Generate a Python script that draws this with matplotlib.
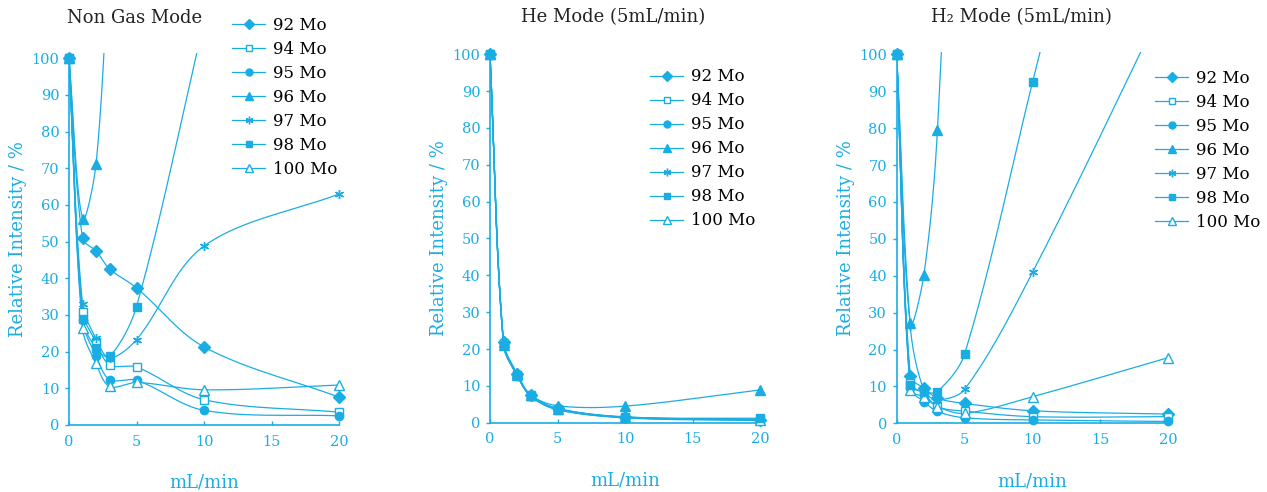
import numpy as np
import matplotlib.pyplot as plt
from matplotlib.lines import Line2D

nan = np.nan

# gas flow (mL/min)
flow = [0, 1, 2, 3, 5, 10, 20]
isotopes = ['92 Mo', '94 Mo', '95 Mo', '96 Mo', '97 Mo', '98 Mo', '100 Mo']
titles = ['Non Gas Mode', 'He Mode (5mL/min)', 'H\u2082 Mode (5mL/min)']

# relative intensity (%), one row per isotope, same order as above
nogas = [
    [100, 50.9, 47.5, 42.6, 37.4, 21.3, 7.6],
    [100, 30.9, 22.7, 16.4, 15.8, 6.9, 3.5],
    [100, 28.6, 18.9, 12.4, 12.2, 4.0, 2.5],
    [100, 56.3, 71.1, 130, nan, nan, nan],
    [100, 33.0, 23.6, 18.3, 23.3, 48.8, 63.0],
    [100, 29.0, 21.0, 18.7, 32.3, 110, nan],
    [100, 26.4, 16.8, 10.5, 11.6, 9.6, 10.9],
]
he = [
    [100, 22.0, 13.3, 7.5, 3.9, 1.5, 0.8],
    [100, 21.5, 13.0, 7.4, 3.7, 1.4, 0.7],
    [100, 21.3, 12.8, 7.3, 3.6, 1.3, 0.6],
    [100, 21.8, 13.4, 7.6, 4.6, 4.5, 8.9],
    [100, 21.6, 13.1, 7.5, 3.8, 1.5, 0.9],
    [100, 21.0, 12.9, 7.2, 3.5, 1.5, 1.2],
    [100, 21.2, 13.0, 7.4, 3.8, 1.6, 0.8],
]
h2 = [
    [100, 12.8, 9.5, 6.8, 5.4, 3.4, 2.5],
    [100, 10.8, 8.1, 4.5, 3.3, 1.8, 1.8],
    [100, 9.5, 5.9, 3.2, 1.5, 0.9, 0.5],
    [100, 27.1, 40.2, 79.5, 250, nan, nan],
    [100, 26.3, 9.0, 6.4, 9.2, 40.9, 116],
    [100, 10.4, 8.6, 8.6, 18.8, 92.4, 240],
    [100, 9.0, 7.2, 4.5, 2.7, 7.2, 17.8],
]
datasets = [nogas, he, h2]

cyan = '#1AADE4'
plt.rcParams['font.family'] = 'DejaVu Serif'

# marker, filled, size
styles = [('D', True, 6), ('s', False, 6), ('o', True, 6), ('^', True, 6.5),
          ((6, 2, 0), True, 6.5), ('s', True, 6), ('^', False, 6.5)]


def smooth(x, y, sx, sy, n=40):
    # chord-length Catmull-Rom in screen units, like spreadsheet smoothed lines
    x = np.asarray(x, float)
    y = np.asarray(y, float)
    ok = ~np.isnan(y)
    p = np.column_stack([x[ok] * sx, y[ok] * sy])
    p = np.vstack([p[0], p, p[-1]])
    t = np.linspace(0, 1, n)[:, None]
    out = []
    for i in range(1, len(p) - 2):
        p0, p1, p2, p3 = p[i - 1], p[i], p[i + 1], p[i + 2]
        d01 = np.hypot(*(p1 - p0))
        d12 = np.hypot(*(p2 - p1))
        d23 = np.hypot(*(p3 - p2))
        c1 = p1 + (p2 - p0) * d12 / (d01 + d12) / 3.0
        c2 = p2 - (p3 - p1) * d12 / (d12 + d23) / 3.0
        seg = ((1 - t) ** 3 * p1 + 3 * (1 - t) ** 2 * t * c1 +
               3 * (1 - t) * t ** 2 * c2 + t ** 3 * p2)
        out.append(seg)
    out = np.vstack(out)
    return out[:, 0] / sx, out[:, 1] / sy


fig = plt.figure(figsize=(12.67, 4.92), dpi=100)
W, H = 1267.0, 492.0

# axes boxes in pixels: x at 0, x at 20, y at 0, px per y unit, ylim top
boxes = [(69, 339, 425, 3.667, 101.5),
         (490, 760, 422.7, 3.684, 100.5),
         (896.7, 1168.3, 423.3, 3.69, 100.5)]
legpos = [(232, 17), (650, 68.5), (1155, 70)]
titlepos = [(134.5, 18), (613, 17), (1021, 17)]

for k, (x0, x1, y0, ppu, ytop) in enumerate(boxes):
    ax = fig.add_axes([x0 / W, (H - y0) / H, (x1 - x0) / W, ytop * ppu / H])
    sx = (x1 - x0) / 20.0
    for i, rows in enumerate(datasets[k]):
        m, filled, ms = styles[i]
        xs, ys = smooth(flow, rows, sx, ppu)
        ax.plot(xs, ys, color=cyan, lw=0.9)
        yv = np.asarray(rows, float)
        keep = (~np.isnan(yv)) & (yv <= ytop)
        xv = np.asarray(flow, float)[keep]
        # 98 Mo squares sit on top of the others
        z = 4 if isotopes[i] == '98 Mo' else 3
        ax.plot(xv, yv[keep], ls='none', marker=m, ms=ms, color=cyan,
                mfc=cyan if filled else 'white', mec=cyan, mew=1.0,
                clip_on=False, zorder=z)

    ax.set_xlim(0, 20)
    ax.set_ylim(0, ytop)
    ax.set_xticks([0, 5, 10, 15, 20])
    ax.set_yticks(np.arange(0, 101, 10))
    for s in ['top', 'right']:
        ax.spines[s].set_visible(False)
    for s in ['left', 'bottom']:
        ax.spines[s].set_color(cyan)
        ax.spines[s].set_linewidth(1.2)
    ax.spines['left'].set_bounds(0, 100)
    ax.tick_params(axis='y', direction='out', length=3, width=1, color=cyan,
                   labelcolor=cyan, labelsize=10.5, pad=4)
    ax.tick_params(axis='x', direction='in', length=3, width=1, color=cyan,
                   labelcolor=cyan, labelsize=10.5, pad=7)
    ax.set_ylabel('Relative Intensity / %', color=cyan, fontsize=13, labelpad=3)
    ax.set_xlabel('mL/min', color=cyan, fontsize=13, labelpad=18)

    handles = []
    for i, lab in enumerate(isotopes):
        m, filled, ms = styles[i]
        handles.append(Line2D([], [], color=cyan, lw=0.9, marker=m, ms=ms - 1,
                              mfc=cyan if filled else 'white', mec=cyan,
                              mew=1.0, label=lab))
    lx, ly = legpos[k]
    fig.legend(handles=handles, loc='upper left',
               bbox_to_anchor=(lx / W, 1 - ly / H), frameon=False,
               borderpad=0, borderaxespad=0, fontsize=12, handlelength=2.0,
               handletextpad=0.45, labelspacing=0.42)

    tx, ty = titlepos[k]
    fig.text(tx / W, 1 - ty / H, titles[k], ha='center', va='center',
             fontsize=13, color='#222222')

fig.savefig('out.png', dpi=100)
